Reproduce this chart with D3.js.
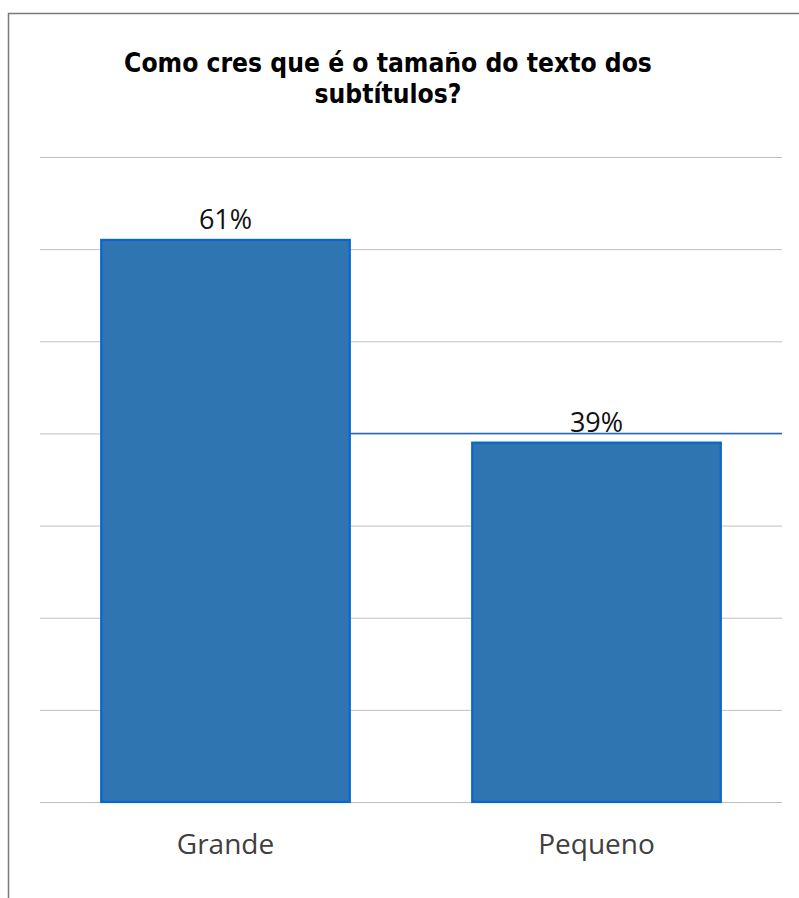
<!DOCTYPE html>
<html>
<head>
<meta charset="utf-8">
<script src="https://cdn.jsdelivr.net/npm/d3@7"></script>
<style>
  body { margin: 0; background: #fff; }
</style>
</head>
<body>
<svg></svg>
<script>
// ================= DATA =================
const titleLines = ["Como cres que é o tamaño do texto dos", "subtítulos?"];
const categories = ["Grande", "Pequeno"];
const values = [61, 39];           // percent
const gridTicks = [0, 10, 20, 30, 40, 50, 60, 70];

// ================= CANVAS =================
var width = 799;
var height = 898;
var plotLeft = 40, plotRight = 782;
var plotTop = 157, plotBottom = 802;

const svg = d3.select("svg")
    .attr("width", width)
    .attr("height", height);

// frame (top + left edge only, as in the picture)
svg.append("path")
    .attr("d", "M8.5,898 L8.5,13.5 L799,13.5")
    .attr("fill", "none")
    .attr("stroke", "#7a7a7a")
    .attr("stroke-width", 1.5);

// ================= SCALES =================
const xs = d3.scaleBand()
    .domain(categories)
    .range([plotLeft, plotRight])
    .paddingInner(0.33)
    .paddingOuter(0.165);

const ys = d3.scaleLinear()
    .domain([0, 70])
    .range([plotBottom, plotTop]);

// ================= GRIDLINES =================
const grid = svg.append("g")
    .attr("transform", "translate(" + plotLeft + ",0)")
    .call(d3.axisLeft(ys).tickValues(gridTicks).tickSize(-(plotRight - plotLeft)).tickFormat(""));
grid.select(".domain").remove();
grid.selectAll("line").attr("stroke", "#c0c0c0").attr("stroke-width", 1);

// the 40% line shows up blue to the right of the first bar
svg.append("line")
    .attr("x1", xs("Grande") + xs.bandwidth())
    .attr("x2", plotRight)
    .attr("y1", Math.round(ys(40)) + 0.5)
    .attr("y2", Math.round(ys(40)) + 0.5)
    .attr("stroke", "#1f66bd")
    .attr("stroke-width", 1.5);

// ================= BARS =================
svg.append("g")
    .selectAll("rect")
    .data(values)
    .enter()
    .append("rect")
    .attr("x", (d, i) => xs(categories[i]))
    .attr("y", d => ys(d))
    .attr("width", xs.bandwidth())
    .attr("height", d => plotBottom - ys(d))
    .attr("fill", "#2e75b1")
    .attr("stroke", "#0866cc")
    .attr("stroke-width", 2.2);

// value labels
svg.append("g")
    .selectAll("text")
    .data(values)
    .enter()
    .append("text")
    .attr("x", (d, i) => xs(categories[i]) + xs.bandwidth() / 2)
    .attr("y", d => ys(d) - 11)
    .attr("text-anchor", "middle")
    .attr("font-family", "'Open Sans', 'Noto Sans', sans-serif")
    .attr("font-size", 27)
    .attr("fill", "#111")
    .text(d => d + "%");

// ================= X AXIS LABELS =================
const xa = svg.append("g")
    .attr("transform", "translate(0," + plotBottom + ")")
    .call(d3.axisBottom(xs).tickSize(0).tickPadding(32));
xa.select(".domain").remove();
xa.selectAll("text")
    .attr("font-family", "'Open Sans', 'Noto Sans', sans-serif")
    .attr("font-size", 28)
    .attr("fill", "#404040");

// ================= TITLE =================
svg.append("text")
    .attr("x", 388)
    .attr("y", 72)
    .attr("text-anchor", "middle")
    .attr("font-family", "'DejaVu Sans Condensed', 'DejaVu Sans', sans-serif")
    .attr("font-weight", "bold")
    .attr("font-size", 26.2)
    .attr("fill", "#000")
    .selectAll("tspan")
    .data(titleLines)
    .enter()
    .append("tspan")
    .attr("x", 388)
    .attr("dy", (d, i) => i === 0 ? 0 : 31)
    .text(d => d);
</script>
</body>
</html>
